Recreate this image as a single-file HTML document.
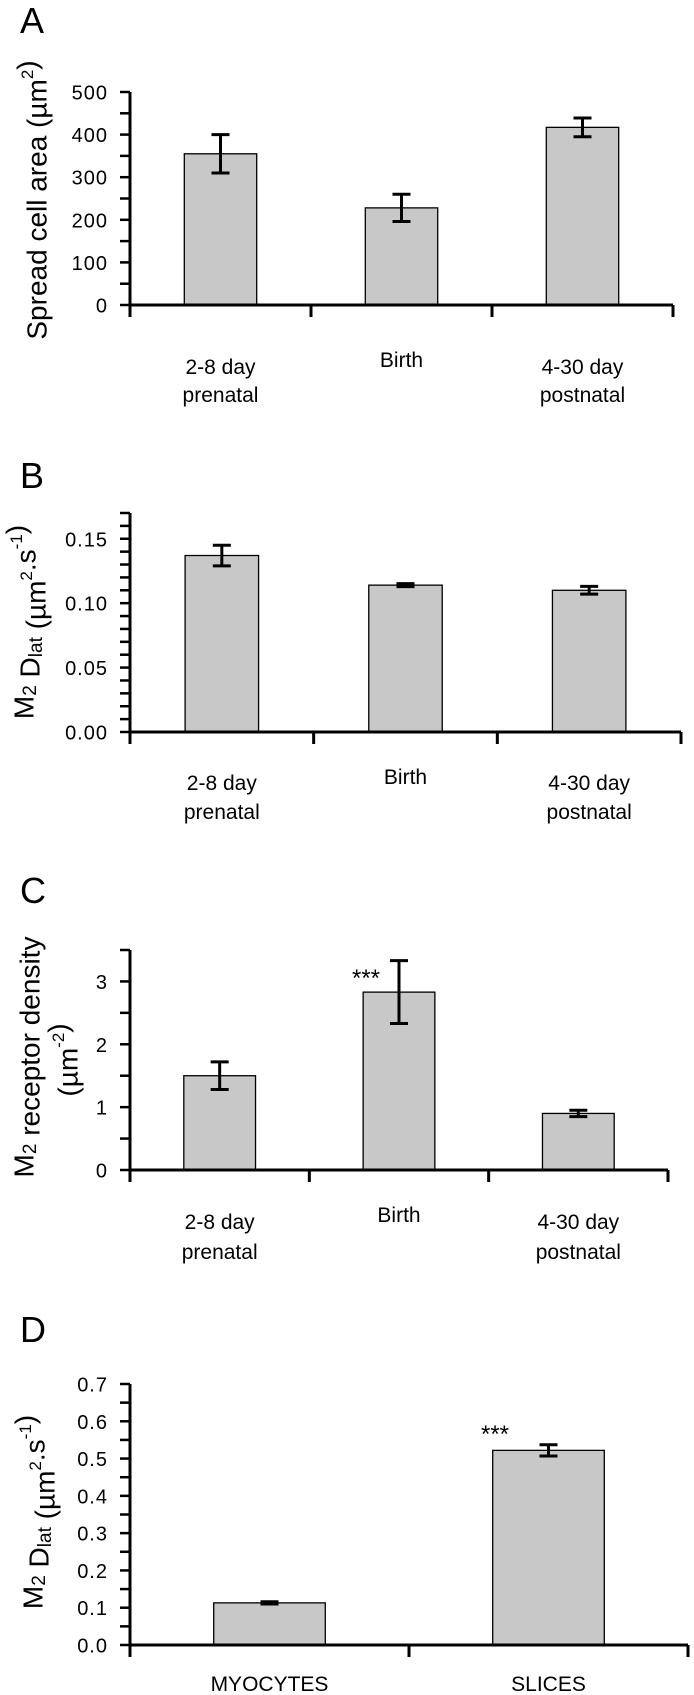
<!DOCTYPE html>
<html><head><meta charset="utf-8"><style>
html,body{margin:0;padding:0;background:#fff;}
svg{display:block;font-family:"Liberation Sans",Arial,sans-serif;}
</style></head><body>
<svg id="fig" width="694" height="1695" viewBox="0 0 694 1695"></svg>
<script>
// Panel A data
const catsA = [["2-8 day","prenatal"],["Birth"],["4-30 day","postnatal"]];
const valsA = [355, 228, 417];
const errsA = [45, 32, 22];
const ticksA = [0,100,200,300,400,500];
// Panel B data
const catsB = [["2-8 day","prenatal"],["Birth"],["4-30 day","postnatal"]];
const valsB = [0.137, 0.114, 0.110];
const errsB = [0.008, 0.0012, 0.003];
const ticksB = ["0.00","0.05","0.10","0.15"];
// Panel C data
const catsC = [["2-8 day","prenatal"],["Birth"],["4-30 day","postnatal"]];
const valsC = [1.5, 2.83, 0.9];
const errsC = [0.22, 0.5, 0.05];
const ticksC = ["0","1","2","3"];
// Panel D data
const catsD = [["MYOCYTES"],["SLICES"]];
const valsD = [0.113, 0.522];
const errsD = [0.003, 0.015];
const ticksD = ["0.0","0.1","0.2","0.3","0.4","0.5","0.6","0.7"];

const NS="http://www.w3.org/2000/svg";
const svg=document.getElementById('fig');
function mk(tag,attrs,parent){const e=document.createElementNS(NS,tag);for(const k in attrs)e.setAttribute(k,attrs[k]);(parent||svg).appendChild(e);return e;}

function panel(cfg){
  const g=mk('g',{});
  
  
  const yScale=v=>cfg.y0-(v/cfg.ymax)*(cfg.y0-cfg.ytop);
  const n=cfg.cats.length, cw=(cfg.x1-cfg.x0)/n;
  const xc=i=>cfg.x0+cw*(i+0.5);
  // letter
  const L=mk('text',{x:20,y:cfg.letterY,'font-size':36},g);L.textContent=cfg.letter;
  
  
  // bars
  cfg.vals.forEach((v,i)=>{
    const bw=cw*0.4, y=yScale(v);
    const r=mk('rect',{x:xc(i)-bw/2,y:y,width:bw,height:cfg.y0-y,fill:'#c8c8c8',stroke:'#000','stroke-width':1.3},g);
    
    
    const e=cfg.errs[i], yt=yScale(v+e), yb=yScale(v-e);
    const eb=mk('path',{d:`M${xc(i)} ${yt}V${yb}M${xc(i)-9} ${yt}H${xc(i)+9}M${xc(i)-9} ${yb}H${xc(i)+9}`,stroke:'#000','stroke-width':3,fill:'none'},g);
    
    
    if(cfg.stars && cfg.stars[i]){
      const s=mk('text',{x:cfg.starX[i],y:cfg.starY,'font-size':24,'text-anchor':'middle'},g);s.textContent='***';
      
      
    }
    // labels
    cfg.cats[i].forEach((t,j)=>{
      const yy = cfg.cats[i].length===1 ? cfg.singleY : cfg.labY[j];
      const tx=mk('text',{x:xc(i),y:yy,'font-size':21,'text-anchor':'middle'},g);tx.textContent=t;
      
      
    });
  });
  // axes
  const ax=mk('path',{d:`M${cfg.x0} ${cfg.ytop}V${cfg.y0+12}M${cfg.x0} ${cfg.y0}H${cfg.x1}`,stroke:'#000','stroke-width':3,fill:'none'},g);
  
  
  for(let i=1;i<=n;i++){
    const x=cfg.x0+cw*i;
    mk('path',{d:`M${x} ${cfg.y0}V${cfg.y0+12}`,stroke:'#000','stroke-width':3},g);
  }
  // y ticks
  for(let v=0; v<=cfg.ymax+1e-9; v+=cfg.minor){
    const y=yScale(v);
    mk('path',{d:`M${cfg.x0-10} ${y}H${cfg.x0}`,stroke:'#000','stroke-width':2.5},g);
  }
  cfg.ticks.forEach(t=>{
    const y=yScale(parseFloat(t));
    const tl=mk('text',{x:108,y:y+7.5,'font-size':20,'text-anchor':'end','letter-spacing':1},g);tl.textContent=t;
    
    
  });
  // y title
  cfg.title(g);
}

function vtitle(g,x,y,html){
  const t=mk('text',{x:0,y:0,'font-size':28,'text-anchor':'middle',transform:`translate(${x},${y}) rotate(-90)`,'dominant-baseline':'central'},g);
  t.innerHTML=html;
  
  
}
const sup=(s)=>`<tspan dy="-10" font-size="17">${s}</tspan><tspan dy="10"></tspan>`;
const sub=(s)=>`<tspan dy="6" font-size="19">${s}</tspan><tspan dy="-6"></tspan>`;

panel({id:'a',letter:'A',letterY:33,cats:catsA,vals:valsA,errs:errsA,ticks:ticksA.map(String),ymax:500,minor:50,
  x0:130,x1:673,y0:305,ytop:92,labY:[374,402],singleY:367,
  title:g=>vtitle(g,37,200,'Spread cell area (µm'+sup('2')+')')});
panel({id:'b',letter:'B',letterY:488,cats:catsB,vals:valsB,errs:errsB,ticks:ticksB,ymax:0.17,minor:0.01,
  x0:130,x1:681,y0:732,ytop:513,labY:[790,819],singleY:784,
  title:g=>vtitle(g,24,622,'M'+sub('2')+' D'+sub('lat')+' (µm'+sup('2')+'.s'+sup('-1')+')')});
panel({id:'c',letter:'C',letterY:903,cats:catsC,vals:valsC,errs:errsC,ticks:ticksC,ymax:3.5,minor:0.5,
  x0:130,x1:668,y0:1170,ytop:950,labY:[1229,1259],singleY:1222,stars:[0,1,0],starX:[0,366,0],starY:986,
  title:g=>{vtitle(g,24,1057,'M'+sub('2')+' receptor density');vtitle(g,68,1060,'(µm'+sup('-2')+')');}});
panel({id:'d',letter:'D',letterY:1342,cats:catsD,vals:valsD,errs:errsD,ticks:ticksD,ymax:0.7,minor:0.05,
  x0:130,x1:688,y0:1645,ytop:1384,labY:[1691],singleY:1691,stars:[0,1],starX:[0,495],starY:1442,
  title:g=>vtitle(g,33,1512,'M'+sub('2')+' D'+sub('lat')+' (µm'+sup('2')+'.s'+sup('-1')+')')});
</script>
</body></html>
